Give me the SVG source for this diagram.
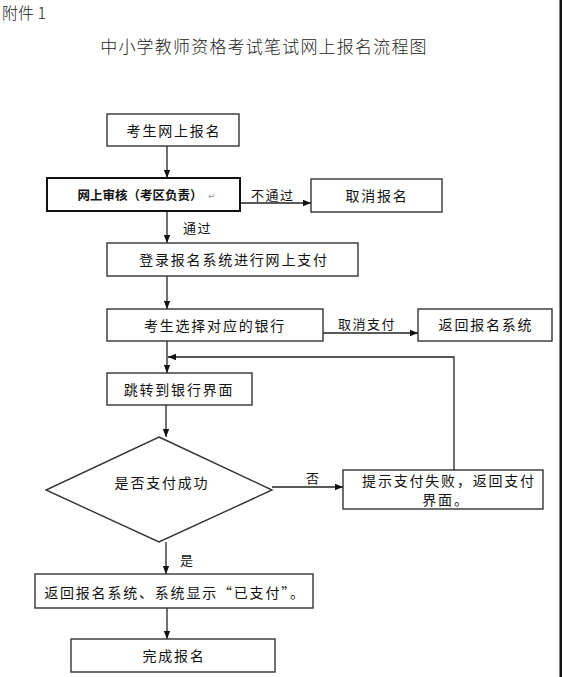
<svg xmlns="http://www.w3.org/2000/svg" width="562" height="677" viewBox="0 0 562 677">
<defs>
<style>
.bx{fill:#fff;stroke:#333;stroke-width:1.4}
.t{font-family:"Noto Sans CJK SC","Noto Sans",sans-serif;font-size:14px;fill:#111;letter-spacing:1.8px;text-anchor:middle;dominant-baseline:central}
.ln{fill:none;stroke:#222;stroke-width:1.3}
.lb{font-family:"Noto Sans CJK SC","Noto Sans",sans-serif;font-size:13px;fill:#111;letter-spacing:1.5px;dominant-baseline:central}
.hd{font-family:"Noto Sans CJK SC",sans-serif;font-weight:300;fill:#222}
</style>
<marker id="ar" viewBox="0 0 8 8" refX="8" refY="4" markerWidth="8" markerHeight="8" markerUnits="userSpaceOnUse" orient="auto">
<path d="M0,0.8 L8,4 L0,7.2 Z" fill="#111"/>
</marker>
</defs>
<rect width="562" height="677" fill="#fff"/>
<rect x="559.5" y="0" width="2.5" height="677" fill="#111"/>
<g id="header">
<text x="2" y="19" class="hd" font-size="16">附件 1</text>
<text x="264" y="45" class="hd" font-size="17" text-anchor="middle" letter-spacing="1.2" dominant-baseline="central">中小学教师资格考试笔试网上报名流程图</text>
</g>
<g id="connectors">
<line class="ln" x1="167" y1="146" x2="167" y2="178" marker-end="url(#ar)"/>
<line class="ln" x1="240" y1="203" x2="311" y2="203" marker-end="url(#ar)"/>
<line class="ln" x1="167" y1="211" x2="167" y2="243" marker-end="url(#ar)"/>
<line class="ln" x1="167" y1="276" x2="167" y2="309" marker-end="url(#ar)"/>
<line class="ln" x1="323" y1="333" x2="418" y2="333" marker-end="url(#ar)"/>
<line class="ln" x1="167" y1="341" x2="167" y2="373" marker-end="url(#ar)"/>
<polyline class="ln" points="454,478 454,357 168,357" marker-end="url(#ar)"/>
<line class="ln" x1="166" y1="405" x2="166" y2="437" marker-end="url(#ar)"/>
<line class="ln" x1="272" y1="487" x2="343" y2="487" marker-end="url(#ar)"/>
<line class="ln" x1="166" y1="542" x2="166" y2="574" marker-end="url(#ar)"/>
<line class="ln" x1="167" y1="608" x2="167" y2="639" marker-end="url(#ar)"/>
<text class="lb" x="251" y="194">不通过</text>
<text class="lb" x="183" y="227">通过</text>
<text class="lb" x="338" y="323">取消支付</text>
<text class="lb" x="306" y="477">否</text>
<text class="lb" x="180" y="559" font-size="10">是</text>
</g>
<g id="n1"><rect class="bx" x="107" y="114" width="132" height="32"/><text class="t" x="174" y="130">考生网上报名</text></g>
<g id="n2"><rect x="47" y="178" width="193" height="33" fill="#fff" stroke="#111" stroke-width="2"/><text x="140" y="194" font-family="'Noto Sans CJK SC',sans-serif" font-size="12.5" font-weight="bold" fill="#111" text-anchor="middle" dominant-baseline="central">网上审核（考区负责）</text><text x="208" y="196" font-family="'DejaVu Sans',sans-serif" font-size="9" fill="#999" dominant-baseline="central">↵</text></g>
<g id="n3"><rect class="bx" x="311" y="179" width="131" height="33"/><text class="t" x="377" y="195">取消报名</text></g>
<g id="n4"><rect class="bx" x="107" y="243" width="251" height="33"/><text class="t" x="234" y="259">登录报名系统进行网上支付</text></g>
<g id="n5"><rect class="bx" x="107" y="309" width="216" height="32"/><text class="t" x="215" y="325">考生选择对应的银行</text></g>
<g id="n6"><rect class="bx" x="418" y="309" width="134" height="32"/><text class="t" x="486" y="324">返回报名系统</text></g>
<g id="n7"><rect class="bx" x="107" y="373" width="145" height="32"/><text class="t" x="179" y="389">跳转到银行界面</text></g>
<g id="n8"><polygon class="bx" points="159,437 272,490 159,542 46,490"/><text class="t" x="162" y="482" letter-spacing="0.8">是否支付成功</text></g>
<g id="n9"><rect class="bx" x="343" y="470" width="200" height="39"/><text class="t" x="449" y="480" font-size="12.5" letter-spacing="3">提示支付失败，返回支付</text><text class="t" x="446" y="499" font-size="12.5" letter-spacing="3">界面。</text></g>
<g id="n10"><rect class="bx" x="35" y="574" width="278" height="34"/><text class="t" x="175" y="592" letter-spacing="1.2">返回报名系统、系统显示“已支付”。</text></g>
<g id="n11"><rect class="bx" x="71" y="639" width="204" height="33"/><text class="t" x="174" y="655">完成报名</text></g>
</svg>
